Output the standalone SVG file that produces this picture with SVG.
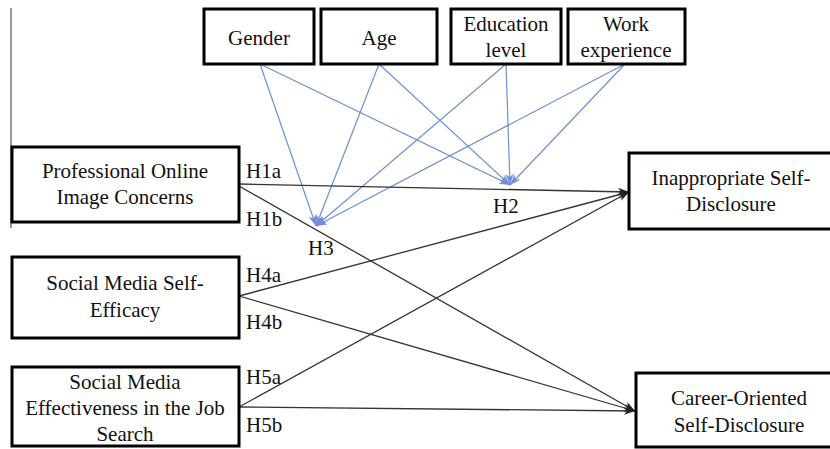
<svg xmlns="http://www.w3.org/2000/svg" width="830" height="449" viewBox="0 0 830 449">
<style>
.box{fill:#fff;stroke:#000;stroke-width:3}
.blk{stroke:#333;stroke-width:1.3;fill:none;marker-end:url(#ab)}
.blu{stroke:#6f8fd6;stroke-width:1.2;fill:none;marker-end:url(#au)}
</style>
<defs>
<marker id="ab" markerUnits="userSpaceOnUse" markerWidth="12" markerHeight="10" refX="11" refY="5" orient="auto">
<path d="M0,1 L11,5 L0,9 L3,5 Z" fill="#222"/>
</marker>
<marker id="au" markerUnits="userSpaceOnUse" markerWidth="12" markerHeight="10" refX="11" refY="5" orient="auto">
<path d="M0,1 L11,5 L0,9 L3,5 Z" fill="#6f8fd6"/>
</marker>
</defs>
<line x1="11" y1="8" x2="11" y2="228" stroke="#777" stroke-width="1.5"/>
<g id="connectors">
<line class="blu" x1="260" y1="64" x2="316" y2="226"/>
<line class="blu" x1="379" y1="64" x2="316" y2="226"/>
<line class="blu" x1="506" y1="64" x2="316" y2="226"/>
<line class="blu" x1="625" y1="64" x2="316" y2="226"/>
<line class="blu" x1="260" y1="64" x2="510" y2="185"/>
<line class="blu" x1="379" y1="64" x2="510" y2="185"/>
<line class="blu" x1="506" y1="64" x2="510" y2="185"/>
<line class="blu" x1="625" y1="64" x2="510" y2="185"/>
<line class="blk" x1="239" y1="184" x2="629" y2="192"/>
<line class="blk" x1="239" y1="186" x2="635" y2="411"/>
<line class="blk" x1="239" y1="296" x2="629" y2="192"/>
<line class="blk" x1="239" y1="296" x2="635" y2="411"/>
<line class="blk" x1="239" y1="407" x2="629" y2="192"/>
<line class="blk" x1="239" y1="407" x2="635" y2="411"/>
</g>
<g font-family="Liberation Serif, Times New Roman, serif" font-size="21" fill="#111">
<g id="labels">
<text x="246" y="178">H1a</text>
<text x="246" y="226">H1b</text>
<text x="308" y="255">H3</text>
<text x="493" y="213">H2</text>
<text x="246" y="282">H4a</text>
<text x="246" y="329">H4b</text>
<text x="246" y="384">H5a</text>
<text x="246" y="432">H5b</text>
</g>
<g text-anchor="middle">
<g id="gender"><rect class="box" x="204" y="9" width="110" height="55"/><text x="259" y="45">Gender</text></g>
<g id="age"><rect class="box" x="321" y="9" width="116" height="55"/><text x="379" y="45">Age</text></g>
<g id="education"><rect class="box" x="451" y="9" width="110" height="55"/><text x="506" y="31">Education</text><text x="506" y="57">level</text></g>
<g id="work"><rect class="box" x="568" y="9" width="117" height="55"/><text x="626" y="31">Work</text><text x="626" y="57">experience</text></g>
<g id="poic"><rect class="box" x="12" y="147" width="227" height="75"/><text x="125" y="178">Professional Online</text><text x="125" y="204">Image Concerns</text></g>
<g id="smse"><rect class="box" x="12" y="257" width="227" height="81"/><text x="125" y="290">Social Media Self-</text><text x="125" y="317">Efficacy</text></g>
<g id="smej"><rect class="box" x="12" y="367" width="227" height="79"/><text x="125" y="389">Social Media</text><text x="125" y="415">Effectiveness in the Job</text><text x="125" y="441">Search</text></g>
<g id="isd"><rect class="box" x="629" y="153" width="215" height="76"/><text x="731" y="185">Inappropriate Self-</text><text x="731" y="211">Disclosure</text></g>
<g id="cosd"><rect class="box" x="636" y="373" width="215" height="74"/><text x="739" y="405">Career-Oriented</text><text x="739" y="432">Self-Disclosure</text></g>
</g>
</g>
</svg>
